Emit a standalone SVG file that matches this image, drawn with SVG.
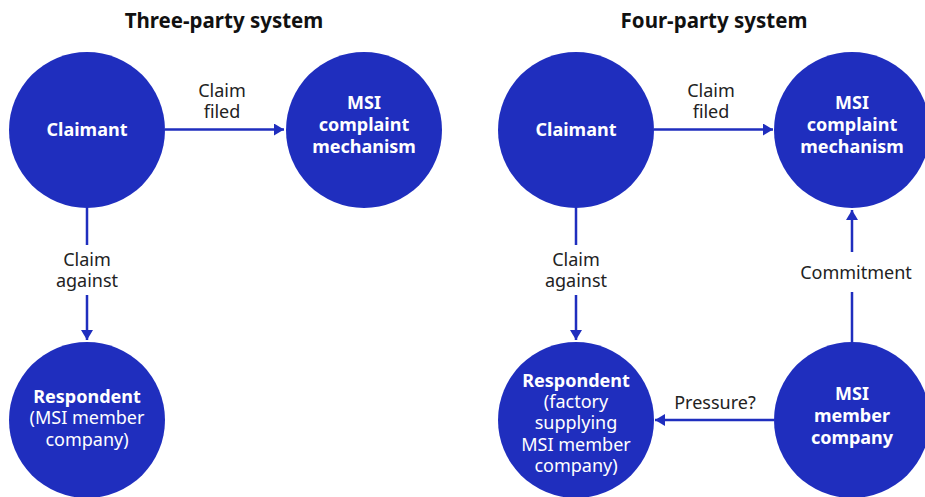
<svg xmlns="http://www.w3.org/2000/svg" width="925" height="497" viewBox="0 0 925 497">
<style>
.node{fill:#1f2ebe}
.nt{font-family:"Noto Sans","Open Sans",sans-serif;font-size:18px;fill:#fff;text-anchor:middle}
.b{font-weight:bold}
.lbl{font-family:"Noto Sans","Open Sans",sans-serif;font-size:18px;fill:#222;text-anchor:middle}
.title{font-family:"Noto Sans","Open Sans",sans-serif;font-size:20.5px;font-weight:bold;fill:#111;text-anchor:middle}
.edge{stroke:#1f2ebe;stroke-width:2.5;fill:none}
</style>
<defs>
<marker id="ah" viewBox="0 0 10 12" refX="10" refY="6" markerWidth="10" markerHeight="12" markerUnits="userSpaceOnUse" orient="auto">
<path d="M0,0 L10,6 L0,12 Z" fill="#1f2ebe"/>
</marker>
</defs>
<rect width="925" height="497" fill="#fff"/>
<text class="title" x="224" y="28">Three-party system</text>
<text class="title" x="714" y="28">Four-party system</text>

<g id="edges">
<path class="edge" d="M165,129.5 H284" marker-end="url(#ah)"/>
<path class="edge" d="M87,208 V245 M87,295 V340" marker-end="url(#ah)"/>
<path class="edge" d="M654,129.5 H773" marker-end="url(#ah)"/>
<path class="edge" d="M576,208 V245 M576,295 V340" marker-end="url(#ah)"/>
<path class="edge" d="M852,342 V292 M852,252 V210" marker-end="url(#ah)"/>
<path class="edge" d="M774,420 H655" marker-end="url(#ah)"/>
<text class="lbl" x="222" y="97">Claim</text>
<text class="lbl" x="222" y="118">filed</text>
<text class="lbl" x="711" y="97">Claim</text>
<text class="lbl" x="711" y="118">filed</text>
<text class="lbl" x="87" y="266">Claim</text>
<text class="lbl" x="87" y="287">against</text>
<text class="lbl" x="576" y="266">Claim</text>
<text class="lbl" x="576" y="287">against</text>
<text class="lbl" x="856" y="279">Commitment</text>
<text class="lbl" x="715" y="409">Pressure?</text>
</g>

<g id="claimant3">
<circle class="node" cx="87" cy="130" r="78"/>
<text class="nt b" x="87" y="136">Claimant</text>
</g>
<g id="msi3">
<circle class="node" cx="364" cy="130" r="78"/>
<text class="nt b" x="364" y="109">MSI</text>
<text class="nt b" x="364" y="131">complaint</text>
<text class="nt b" x="364" y="153">mechanism</text>
</g>
<g id="respondent3">
<circle class="node" cx="87" cy="420" r="78"/>
<text class="nt b" x="87" y="403">Respondent</text>
<text class="nt" x="87" y="424">(MSI member</text>
<text class="nt" x="87" y="446">company)</text>
</g>

<g id="claimant4">
<circle class="node" cx="576" cy="130" r="78"/>
<text class="nt b" x="576" y="136">Claimant</text>
</g>
<g id="msi4">
<circle class="node" cx="852" cy="130" r="78"/>
<text class="nt b" x="852" y="109">MSI</text>
<text class="nt b" x="852" y="131">complaint</text>
<text class="nt b" x="852" y="153">mechanism</text>
</g>
<g id="respondent4">
<circle class="node" cx="576" cy="420" r="78"/>
<text class="nt b" x="576" y="387">Respondent</text>
<text class="nt" x="576" y="408">(factory</text>
<text class="nt" x="576" y="429">supplying</text>
<text class="nt" x="576" y="451">MSI member</text>
<text class="nt" x="576" y="472">company)</text>
</g>
<g id="member4">
<circle class="node" cx="852" cy="420" r="78"/>
<text class="nt b" x="852" y="400">MSI</text>
<text class="nt b" x="852" y="422">member</text>
<text class="nt b" x="852" y="444">company</text>
</g>
</svg>
